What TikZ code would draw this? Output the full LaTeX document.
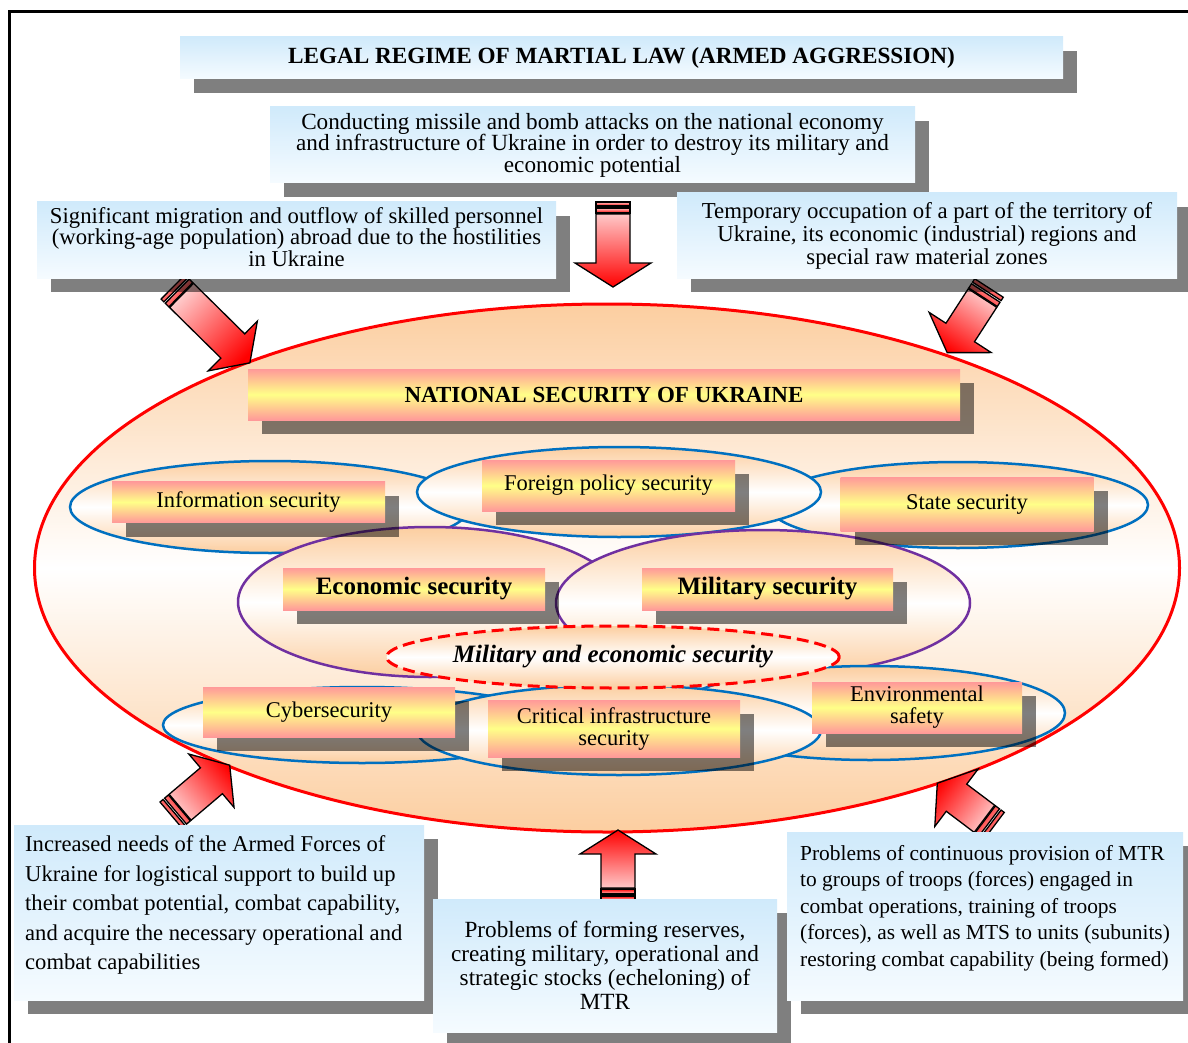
\documentclass[tikz,border=0pt]{standalone}
\usepackage{fontspec}
\setmainfont{Liberation Serif}
\usetikzlibrary{shapes.geometric,shadows}

\definecolor{peach}{RGB}{252,206,160}
\definecolor{boxblue}{RGB}{208,234,251}
\definecolor{boxwhite}{RGB}{245,251,255}
\definecolor{lblpink}{RGB}{255,153,153}
\definecolor{lblyellow}{RGB}{255,255,136}
\definecolor{secblue}{RGB}{0,112,192}
\definecolor{secpurple}{RGB}{112,48,160}
\definecolor{arrowpale}{RGB}{255,200,200}

% block arrow: tail, angle, length, head half width, shading angle
\newcommand{\BlockArrow}[5]{
\begin{scope}[shift={#1}, rotate=#2]
\draw[ArrowStyle=#5] (0,-17) rectangle (4,17);
\draw[ArrowStyle=#5] (6,-17) rectangle (11,17);
\draw[ArrowStyle=#5] (12,-17) -- ({#3-24},-17) -- ({#3-24},-#4) -- (#3,0)
  -- ({#3-24},#4) -- ({#3-24},17) -- (12,17) -- cycle;
\end{scope}}

\begin{document}
\begin{tikzpicture}[x=1pt, y=-1pt]
\useasboundingbox (0,0) rectangle (1188,1043);

\tikzset{BoxShadow/.style = {drop shadow={shadow xshift=14pt, shadow yshift=-14pt, fill=black, opacity=.5}}}
\tikzset{BlueBox/.style = {top color=boxblue, bottom color=boxwhite, inner sep=0pt, align=center, BoxShadow}}
\tikzset{LabelBox/.style = {top color=lblpink, bottom color=lblpink, middle color=lblyellow,
 inner sep=0pt, align=center, BoxShadow, font=\fontsize{22.5pt}{22pt}\selectfont}}
\tikzset{SecEllipse/.style = {ellipse, inner sep=0pt, line width=2.5pt,
 top color=peach, bottom color=peach, middle color=white}}
\tikzset{ArrowStyle/.style = {draw=black, line width=1.3pt, top color=red, bottom color=arrowpale, shading angle=#1}}

\draw[line width=3pt] (9,1043) -- (9,12) -- (1188,12);

% the big ellipse
\node[SecEllipse, draw=red, line width=3pt, minimum width=1145pt, minimum height=528pt] (NSU) at (607,568) {};
\node[LabelBox, minimum width=712pt, minimum height=51pt, font=\bfseries\fontsize{23pt}{23pt}\selectfont]
 (NSUL) at (604,394.5) {NATIONAL SECURITY OF UKRAINE};

% kinds of security
\node[SecEllipse, draw=secblue, minimum width=400pt, minimum height=92pt] (InfoE) at (270,507) {};
\node[SecEllipse, draw=secblue, minimum width=380pt, minimum height=86pt] (StateE) at (958,505) {};
\node[SecEllipse, draw=secblue, minimum width=404pt, minimum height=90pt] (ForeignE) at (619,492) {};
\node[SecEllipse, draw=secpurple, minimum width=384pt, minimum height=150pt] (EconE) at (430,602) {};
\node[SecEllipse, draw=secpurple, minimum width=414pt, minimum height=146pt] (MilE) at (763,603) {};
\node[SecEllipse, draw=secblue, minimum width=398pt, minimum height=76pt] (CyberE) at (362,725) {};
\node[SecEllipse, draw=secblue, minimum width=390pt, minimum height=94pt] (EnvE) at (870,713) {};
\node[SecEllipse, draw=secblue, minimum width=404pt, minimum height=90pt] (CritE) at (619,730) {};

\node[LabelBox, minimum width=273pt, minimum height=41pt] (InfoL) at (248.5,502) {Information security};
\node[LabelBox, minimum width=253pt, minimum height=51pt] (ForeignL) at (608.5,485.5) {Foreign policy security};
\node[LabelBox, minimum width=253pt, minimum height=54pt] (StateL) at (967,504) {State security};
\node[LabelBox, minimum width=262pt, minimum height=42pt, font=\bfseries\fontsize{25pt}{25pt}\selectfont]
 (EconL) at (414,589) {Economic security};
\node[LabelBox, minimum width=251pt, minimum height=42pt, font=\bfseries\fontsize{25pt}{25pt}\selectfont]
 (MilL) at (767.5,589) {Military security};
\node[LabelBox, minimum width=252pt, minimum height=50pt] (CyberL) at (329,712) {Cybersecurity};
\node[LabelBox, minimum width=252pt, minimum height=57pt] (CritL) at (614,728.5) {Critical infrastructure\\security};
\node[LabelBox, minimum width=210pt, minimum height=51pt] (EnvL) at (917,707.5) {Environmental\\safety};

\node[SecEllipse, draw=red, line width=3pt, dash pattern=on 12pt off 6pt, minimum width=440pt, minimum height=62pt,
 font=\bfseries\itshape\fontsize{25pt}{25pt}\selectfont] (MilEcon) at (613,657) {Military and economic security};

% arrows
\BlockArrow{(613,202)}{-90}{85}{38}{-180}
\BlockArrow{(173,287)}{-44.6}{108}{35}{-134.6}
\BlockArrow{(989,288)}{-122.9}{77}{37}{-212.9}
\BlockArrow{(171,815)}{40.3}{77}{35}{-49.7}
\BlockArrow{(618,900)}{90}{70}{38}{0}
\BlockArrow{(994,826)}{143}{71}{36}{53}

% factors
\node[BlueBox, minimum width=883pt, minimum height=42pt, font=\bfseries\fontsize{23.2pt}{23pt}\selectfont]
 (Title) at (621.5,58) {LEGAL REGIME OF MARTIAL LAW (ARMED AGGRESSION)};
\node[BlueBox, minimum width=645pt, minimum height=76pt, font=\fontsize{23.2pt}{21.5pt}\selectfont] (Missile) at (592.5,145)
 {Conducting missile and bomb attacks on the national economy\\and infrastructure of Ukraine in order to destroy its military and\\economic potential};
\node[BlueBox, minimum width=519pt, minimum height=76pt] (Migration) at (296.5,240) {};
\node[font=\fontsize{22.7pt}{21.5pt}\selectfont, align=center, inner sep=0pt] (MigrationT) at (296.5,237)
 {Significant migration and outflow of skilled personnel\\(working-age population) abroad due to the hostilities\\in Ukraine};
\node[BlueBox, minimum width=500pt, minimum height=85pt, font=\fontsize{22.8pt}{23pt}\selectfont] (Occupation) at (927,235.5)
 {Temporary occupation of a part of the territory of\\Ukraine, its economic (industrial) regions and\\special raw material zones};
\node[BlueBox, minimum width=410pt, minimum height=175pt] (Needs) at (219,912.5) {};
\node[font=\fontsize{22.6pt}{29.5pt}\selectfont, align=left, inner sep=0pt, anchor=west] (NeedsT) at (25,905)
 {Increased needs of the Armed Forces of\\Ukraine for logistical support to build up\\their combat potential, combat capability,\\and acquire the necessary operational and\\combat capabilities};
\node[BlueBox, minimum width=344pt, minimum height=133pt, font=\fontsize{23.2pt}{24pt}\selectfont] (Reserves) at (605,965.5)
 {Problems of forming reserves,\\creating military, operational and\\strategic stocks (echeloning) of\\MTR};
\node[BlueBox, minimum width=396pt, minimum height=168pt] (Provision) at (985,916) {};
\node[font=\fontsize{21.4pt}{26.5pt}\selectfont, align=left, inner sep=0pt, anchor=west] (ProvisionT) at (800,908)
 {Problems of continuous provision of MTR\\to groups of troops (forces) engaged in\\combat operations, training of troops\\(forces), as well as MTS to units (subunits)\\restoring combat capability (being formed)};

\end{tikzpicture}
\end{document}
